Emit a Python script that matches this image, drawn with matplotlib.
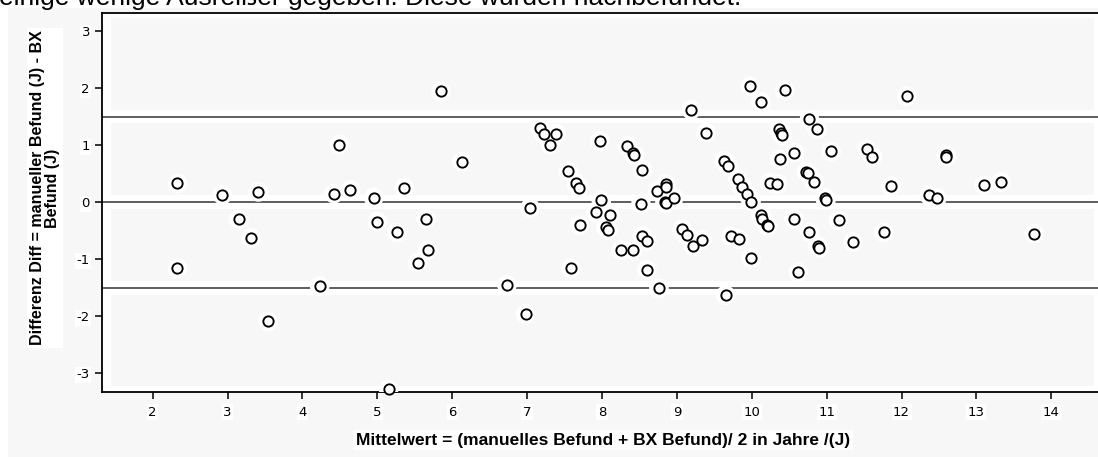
import matplotlib

matplotlib.use("Agg")
import matplotlib.pyplot as plt
from matplotlib.patches import Rectangle

plt.rcParams["axes.unicode_minus"] = False

# Bland-Altman: mean of both readings (x) vs difference (y), in years
mean_vals = [
    2.33, 2.93, 3.41, 4.42, 4.49, 4.64, 4.95, 5.36, 5.85, 6.13,
    7.04, 7.17, 7.22, 7.31, 7.39, 7.55, 7.65, 7.69, 7.97, 7.99,
    8.34, 8.41, 8.43, 8.54, 8.52, 8.74, 8.85, 8.86, 8.84, 8.85,
    8.96, 9.19, 9.39, 9.63, 9.68, 9.81, 9.87, 9.93, 9.99, 9.98,
    10.12, 10.44, 10.24, 10.34, 10.37, 10.36, 10.39, 10.41, 10.57, 10.77,
    10.87, 10.73, 10.75, 10.83, 10.98, 10.99, 11.06, 11.54, 11.61, 11.86,
    12.07, 12.37, 12.47, 12.59, 12.60, 13.10, 13.33,
    3.15, 3.31, 2.33, 3.54, 4.23, 5.00, 5.26, 5.65, 5.67, 5.54,
    5.15, 6.73, 6.98, 7.58, 7.70, 7.92, 8.11, 8.05, 8.08, 8.25,
    8.41, 8.54, 8.60, 8.60, 8.76, 9.07, 9.13, 9.22, 9.33, 9.65,
    9.72, 9.83, 9.99, 10.12, 10.14, 10.20, 10.21, 10.56, 10.62, 10.77,
    10.88, 10.90, 11.16, 11.35, 11.76, 13.77,
]
diff_vals = [
    0.33, 0.13, 0.18, 0.15, 1.01, 0.22, 0.08, 0.25, 1.94, 0.71,
    -0.10, 1.30, 1.19, 1.01, 1.20, 0.54, 0.34, 0.25, 1.07, 0.03,
    0.98, 0.86, 0.83, 0.57, -0.03, 0.20, 0.32, 0.27, 0.00, -0.02,
    0.08, 1.62, 1.22, 0.73, 0.64, 0.40, 0.27, 0.15, 0.01, 2.03,
    1.76, 1.96, 0.34, 0.32, 0.75, 1.28, 1.22, 1.17, 0.87, 1.45,
    1.28, 0.53, 0.51, 0.36, 0.07, 0.04, 0.89, 0.93, 0.80, 0.28,
    1.86, 0.12, 0.07, 0.82, 0.80, 0.30, 0.35,
    -0.30, -0.63, -1.16, -2.09, -1.47, -0.34, -0.53, -0.29, -0.84, -1.06,
    -3.28, -1.45, -1.96, -1.16, -0.40, -0.18, -0.22, -0.44, -0.49, -0.84,
    -0.84, -0.59, -0.68, -1.18, -1.51, -0.47, -0.58, -0.77, -0.66, -1.63,
    -0.60, -0.65, -0.98, -0.23, -0.29, -0.40, -0.42, -0.29, -1.23, -0.53,
    -0.76, -0.80, -0.32, -0.70, -0.53, -0.55,
]
ref_lines = [-1.5, 0.0, 1.5]
x_ticks = list(range(2, 15))
y_ticks = list(range(-3, 4))

xlabel = "Mittelwert = (manuelles Befund + BX Befund)/ 2 in Jahre /(J)"
ylabel = "Differenz Diff = manueller Befund (J) - BX\nBefund (J)"
top_text = "einige wenige Ausreißer gegeben. Diese wurden nachbefundet."

BG = "#f7f7f7"
BAND = "#f7f7f7"
W, H = 1098, 457

fig = plt.figure(figsize=(W / 100, H / 100), dpi=100)
fig.patch.set_facecolor("white")
# grey chart canvas below the white strip of page text
fig.add_artist(Rectangle((8 / W, 0), 1, 1 - 8 / H, transform=fig.transFigure,
                         facecolor=BG, edgecolor="none", zorder=0))
fig.text(-1 / W, 1 - 5 / H, top_text, fontsize=19, family="Liberation Sans",
         va="baseline", ha="left", color="black")

ax = fig.add_axes([101.8 / W, 65 / H, (1103 - 101.8) / W, (392 - 12.5) / H])
ax.set_facecolor("white")
xlo, xhi = 1.32, 14.69
ylo, yhi = -3.326, 3.324
ax.set_xlim(xlo, xhi)
ax.set_ylim(ylo, yhi)

# light grey bands with white gaps around the reference lines (SPSS look)
pad_y, pad_x, gap = 0.105, 0.12, 0.12
edges = [ylo + pad_y] + [v for r in ref_lines for v in (r - gap, r + gap)] + [yhi - pad_y]
for b0, b1 in zip(edges[::2], edges[1::2]):
    ax.add_patch(Rectangle((xlo + pad_x, b0), xhi - xlo - 2 * pad_x, b1 - b0,
                           facecolor=BAND, edgecolor="none", zorder=0))

for r in ref_lines:
    ax.axhline(r, color="#333333", lw=1.1, zorder=2)

ax.scatter(mean_vals, diff_vals, s=200, color="white", edgecolors="none",
           zorder=3)
ax.scatter(mean_vals, diff_vals, s=55, facecolors="white", edgecolors="black",
           linewidths=1.35, zorder=4, clip_on=False)

ax.set_xticks(x_ticks)
ax.set_yticks(y_ticks)
ax.tick_params(direction="out", length=5, width=1.1, labelsize=9.5, color="black")
ax.tick_params(axis="x", pad=5)
for lbl in ax.get_xticklabels() + ax.get_yticklabels():
    lbl.set_bbox(dict(facecolor="white", edgecolor="none", pad=1))
ax.spines["right"].set_visible(False)
for side in ("left", "bottom", "top"):
    ax.spines[side].set_linewidth(1.3)

fig.text(603 / W, 1 - 440 / H, xlabel, fontsize=12.5, fontweight="bold",
         family="Liberation Sans", ha="center", va="center",
         bbox=dict(facecolor="white", edgecolor="none", pad=2))
fig.text(45 / W, 1 - 188 / H, ylabel, fontsize=11.5, fontweight="bold",
         family="Liberation Sans", ha="center", va="center", rotation=90,
         multialignment="center", linespacing=1.05,
         bbox=dict(facecolor="white", edgecolor="none", pad=2))

fig.savefig("out.png", dpi=100)
plt.close(fig)
